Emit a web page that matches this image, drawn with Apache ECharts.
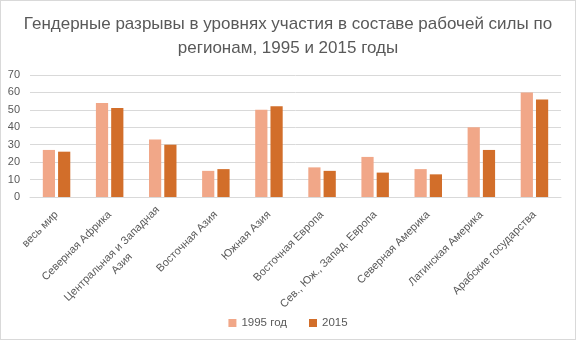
<!DOCTYPE html>
<html>
<head>
<meta charset="utf-8">
<script src="https://cdn.jsdelivr.net/npm/echarts@6/dist/echarts.min.js"></script>
<style>
  html, body { margin: 0; padding: 0; background: #fff; }
  #chart { width: 574px; height: 338px; border: 1px solid #d9d9d9; }
</style>
</head>
<body>
<div id="chart"></div>
<script>
// данные
const categories = [
  "весь мир",
  "Северная Африка",
  "Центральная и Западная\nАзия",
  "Восточная Азия",
  "Южная Азия",
  "Восточная Европа",
  "Сев., Юж., Запад. Европа",
  "Северная Америка",
  "Латинская Америка",
  "Арабские государства"
];
const values1995 = [27, 54, 33, 15, 50, 17, 23, 16, 40, 60];
const values2015 = [26, 51, 30, 16, 52, 15, 14, 13, 27, 56];
const yTicks = [0, 10, 20, 30, 40, 50, 60, 70];

const font = "'Liberation Sans', sans-serif";
const textColor = "#595959";

// многострочные подписи: вторая строка по центру первой
const labelFormatter = (value) => {
  const parts = value.split("\n");
  if (parts.length < 2) return value;
  return parts[0] + "\n{c|" + parts[1] + "}";
};

const chart = echarts.init(document.getElementById("chart"));
chart.setOption({
  animation: false,
  title: {
    text: "Гендерные разрывы в уровнях участия в составе рабочей силы по\nрегионам, 1995 и 2015 годы",
    left: "center",
    top: 6,
    textStyle: { color: textColor, fontSize: 17, fontWeight: "normal", fontFamily: font, lineHeight: 24 }
  },
  legend: {
    bottom: 5,
    left: "center",
    icon: "rect",
    itemWidth: 8,
    itemHeight: 8,
    itemGap: 22,
    textStyle: { color: textColor, fontSize: 11.5, fontFamily: font }
  },
  grid: { left: 29, right: 14, top: 74, bottom: 142, containLabel: false },
  xAxis: {
    type: "category",
    data: categories,
    axisTick: { show: false },
    axisLine: { lineStyle: { color: "#d9d9d9" } },
    axisLabel: {
      rotate: 45,
      interval: 0,
      color: textColor,
      fontSize: 11,
      fontFamily: font,
      margin: 16,
      align: "right",
      lineHeight: 14,
      formatter: labelFormatter,
      rich: {
        c: { width: 122, align: "center", color: textColor, fontSize: 11, fontFamily: font, lineHeight: 14 }
      }
    }
  },
  yAxis: {
    type: "value",
    min: yTicks[0],
    max: yTicks[yTicks.length - 1],
    interval: 10,
    axisLine: { show: false },
    axisTick: { show: false },
    splitLine: { lineStyle: { color: "#d9d9d9" } },
    axisLabel: { color: textColor, fontSize: 11, fontFamily: font, margin: 10 }
  },
  series: [
    {
      name: "1995 год",
      type: "bar",
      data: values1995,
      barWidth: "23%",
      barGap: "25%",
      itemStyle: { color: "#f1a788" }
    },
    {
      name: "2015",
      type: "bar",
      data: values2015,
      barWidth: "23%",
      itemStyle: { color: "#d26e2a" }
    }
  ]
});
</script>
</body>
</html>
